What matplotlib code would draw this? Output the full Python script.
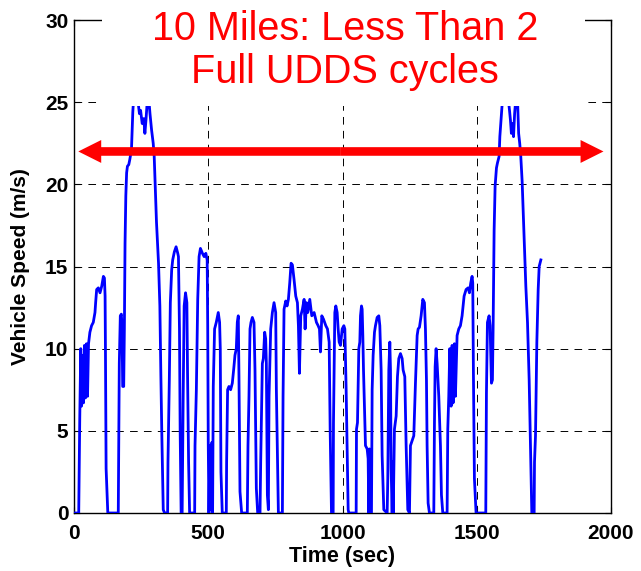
import matplotlib
matplotlib.use("Agg")
import matplotlib.pyplot as plt
from matplotlib.patches import FancyArrowPatch, Rectangle, ArrowStyle

plt.rcParams["font.family"] = ["Liberation Sans", "DejaVu Sans"]
plt.rcParams["lines.scale_dashes"] = False

# Drive-cycle speed trace: time (s) and vehicle speed (m/s)
time_s = [
    0, 17.6, 21.4, 25.2, 27.7, 31.5, 35.3, 39.0, 42.8, 46.6, 50.4, 54.1, 59.2, 65.5, 71.8,
    78.1, 80.6, 84.4, 90.6, 96.9, 103.2, 109.5, 113.3, 115.8, 117.1, 119.6, 125.9,
    164.9, 168.7, 172.5, 176.3, 178.8, 181.3, 185.1, 187.6, 190.1, 193.0, 196.0, 199.0,
    204.0, 207.7, 214.0, 216.5, 219.0, 222.0, 230.0, 238.0, 243.7, 248.0, 254.0, 260.0,
    264.0, 268.0, 273.0, 279.0, 283.0, 289.0, 295.0, 298.7, 302.2, 307.2, 314.8, 319.8,
    323.6, 327.4, 332.4, 337.4, 348.7, 350.0, 355.0, 358.8, 363.8, 367.6, 373.9, 380.2,
    386.5, 389.0, 392.8, 395.3, 399.0, 402.8, 406.6, 410.3, 415.4, 420.4, 422.9, 426.8,
    430.6, 449.4, 450.7, 455.7, 460.8, 465.8, 470.9, 478.4, 484.7, 491.0, 496.0, 498.0,
    500.0, 502.5, 506.2, 510.0, 513.7, 516.2, 518.7, 523.6, 529.9, 537.3, 542.3, 544.8,
    547.3, 552.2, 567.2, 568.4, 572.1, 577.1, 583.3, 589.6, 594.5, 599.5, 604.5, 608.2,
    611.9, 614.4, 618.2, 624.4, 645.5, 648.0, 651.7, 655.5, 659.2, 664.2, 670.4, 674.1,
    679.1, 684.1, 692.8, 695.3, 701.5, 705.2, 710.2, 713.9, 716.4, 720.2, 723.9, 726.4,
    732.6, 738.8, 745.0, 751.2, 753.7, 761.2, 776.1, 778.6, 782.3, 788.6, 793.5, 798.5,
    803.5, 808.5, 813.4, 819.6, 825.9, 832.1, 835.8, 839.6, 844.5, 850.7, 857.0, 860.7,
    865.7, 870.6, 878.1, 885.6, 894.3, 903.0, 909.2, 914.2, 917.9, 922.9, 929.1, 937.8,
    944.0, 950.3, 954.0, 959.0, 965.2, 966.4, 971.4, 975.1, 980.1, 983.8, 987.6, 992.6,
    998.8, 1005.0, 1008.7, 1013.6, 1021.1, 1023.6, 1050.9, 1052.1, 1055.8, 1060.8, 1064.5,
    1067.0, 1070.7, 1073.2, 1075.7, 1078.2, 1081.9, 1085.6, 1091.8, 1095.5, 1098.0, 1100.5,
    1103.0, 1107.9, 1110.4, 1114.1, 1119.1, 1122.8, 1129.0, 1135.2, 1139.0, 1143.9, 1147.6,
    1153.8, 1166.3, 1168.7, 1172.5, 1176.2, 1178.7, 1181.1, 1184.9, 1187.4, 1188.9, 1193.5,
    1199.8, 1204.7, 1209.7, 1215.9, 1222.1, 1225.8, 1232.0, 1237.0, 1243.2, 1249.4, 1253.1,
    1265.5, 1271.7, 1278.0, 1281.7, 1286.6, 1292.8, 1299.0, 1305.2, 1308.9, 1312.7, 1315.1,
    1318.9, 1323.8, 1340.0, 1342.5, 1345.0, 1348.6, 1352.4, 1358.6, 1364.8, 1368.5, 1373.5,
    1389.6, 1392.1, 1395.8, 1399.5, 1404.5, 1408.2, 1411.9, 1416.9, 1420.6, 1426.8, 1433.0,
    1439.2, 1445.4, 1447.9, 1452.9, 1460.3, 1467.8, 1472.7, 1477.7, 1482.6, 1485.1, 1487.6,
    1491.3, 1497.5, 1533.6, 1536.1, 1539.8, 1546.0, 1549.7, 1554.7, 1558.4, 1560.9, 1564.7,
    1568.4, 1573.4, 1577.1, 1583.3, 1586.0, 1592.7, 1596.0, 1607.0, 1618.0, 1622.0, 1625.5,
    1629.0, 1633.0, 1637.0, 1641.0, 1645.0, 1652.0, 1656.0, 1660.0, 1664.0, 1669.0, 1676.5,
    1682.8, 1689.0, 1695.2, 1701.4, 1705.1, 1713.8, 1715.1, 1718.8, 1723.8, 1728.8, 1732.5,
    1738.7,
]
speed_ms = [
    0, 0, 5.7, 10.0, 6.5, 9.6, 6.7, 10.2, 7.0, 10.3, 7.1, 10.3, 11.0, 11.4, 11.6,
    12.2, 12.8, 13.6, 13.7, 13.4, 13.8, 14.4, 14.3, 13.2, 10.0, 2.7, 0,
    0, 9.1, 12.0, 12.1, 11.4, 7.7, 7.7, 11.2, 16.4, 19.3, 20.7, 21.1,
    21.2, 21.5, 22.1, 23.3, 24.4, 25.2, 25.4, 25.1, 24.3, 24.5, 23.7, 24.0,
    23.1, 23.9, 25.1, 25.1, 24.3, 23.3, 22.5, 21.7, 20.1, 17.7, 15.2, 12.6,
    8.3, 4.5, 0.2, 0, 0, 3.1, 8.1, 12.8, 14.8, 15.4, 15.9, 16.2,
    15.8, 15.6, 11.2, 5.1, 0, 0, 7.1, 12.6, 13.4, 12.8, 8.5, 3.1,
    0, 0, 4.1, 7.5, 13.0, 15.6, 16.1, 15.8, 15.6, 15.8, 15.4, 11.4,
    4.3, 0, 4.1, 0.2, 4.3, 0, 7.7, 11.2, 11.6, 12.2, 11.6, 10.0,
    2.5, 0, 0, 3.1, 7.5, 7.7, 7.5, 7.9, 8.7, 9.6, 10.0, 11.6,
    12.0, 8.3, 1.3, 0, 0, 4.1, 7.1, 11.2, 11.6, 11.9, 11.6, 8.7,
    1.5, 0, 0, 3.1, 9.1, 9.4, 11.0, 10.6, 9.1, 1.1, 0.2, 7.1,
    11.2, 12.2, 12.8, 12.2, 7.5, 0, 0, 7.1, 12.4, 12.9, 12.6, 13.0,
    14.0, 15.2, 15.1, 14.2, 13.2, 12.8, 11.4, 8.5, 12.0, 12.4, 13.0, 11.2,
    12.8, 12.2, 13.0, 12.0, 12.2, 11.6, 11.4, 11.2, 9.8, 12.0, 11.8, 11.4,
    11.2, 10.4, 5.1, 0, 0, 5.5, 12.2, 12.6, 12.2, 11.2, 10.4, 10.2,
    11.2, 11.4, 11.2, 7.5, 0.2, 0, 0, 5.1, 5.5, 10.0, 10.4,
    12.0, 12.6, 12.4, 10.8, 8.7, 6.5, 4.1, 3.9, 3.3, 0, 3.9,
    0, 0, 7.5, 9.6, 11.0, 11.4, 11.9, 12.0, 11.4, 8.7, 3.5,
    0.2, 0, 2.1, 8.7, 10.4, 8.7, 2.7, 0, 3.1, 0, 5.1,
    5.9, 8.3, 9.4, 9.7, 9.4, 8.7, 8.3, 4.1, 0.2, 0, 4.1,
    4.7, 7.9, 10.8, 11.2, 11.3, 12.0, 13.0, 12.8, 11.2, 8.1, 4.1,
    0.6, 0, 0, 5.5, 8.9, 10.0, 9.1, 7.1, 4.1, 1.1, 0,
    0, 5.1, 7.1, 10.0, 6.5, 10.2, 6.7, 10.3, 7.1, 10.8, 11.2,
    11.4, 12.0, 12.4, 13.2, 13.6, 13.7, 13.4, 14.0, 14.4, 14.0, 8.5,
    2.1, 0, 0, 7.3, 11.6, 12.0, 11.4, 7.9, 8.1, 11.2, 17.2,
    19.9, 21.0, 21.3, 21.7, 22.9, 24.5, 25.2, 25.4, 25.1, 24.5, 23.9,
    23.1, 23.7, 22.9, 24.3, 25.1, 25.1, 23.1, 22.5, 21.7, 20.2, 16.8,
    13.8, 11.6, 8.1, 3.1, 0, 0, 3.1, 4.7, 10.4, 13.6, 15.0,
    15.4,
]

x_ticks = [0, 500, 1000, 1500, 2000]
y_ticks = [0, 5, 10, 15, 20, 25, 30]

callout_lines = ["10 Miles: Less Than 2", "Full UDDS cycles"]
arrow_y = 22
arrow_start, arrow_end = 16, 1972

W, H = 641, 571
fig = plt.figure(figsize=(W / 100, H / 100), dpi=100)
ax = fig.add_axes([74 / W, 1 - 513 / H, (611 - 74) / W, (513 - 20) / H])

ax.plot(time_s, speed_ms, color="#0000FF", lw=2.0, zorder=3)

ax.set_xlim(0, 2000)
ax.set_ylim(0, 30)
ax.set_xticks(x_ticks)
ax.set_yticks(y_ticks)
ax.tick_params(direction="in", length=4, width=0.8, top=True, right=True,
               labelsize=15)
ax.tick_params(axis="x", pad=8)
ax.tick_params(axis="y", pad=4)
for lab in ax.get_xticklabels() + ax.get_yticklabels():
    lab.set_fontweight("bold")
ax.grid(True, color="black", lw=0.7, linestyle=(0, (5.5, 4.5)))
ax.set_axisbelow(True)
for sp in ax.spines.values():
    sp.set_linewidth(1.0)
    sp.set_color("black")

ax.set_xlabel("Time (sec)", fontsize=15.5, fontweight="bold", va="top")
ax.xaxis.set_label_coords(0.5, (513 - 546) / 493)
ax.set_ylabel("Vehicle Speed (m/s)", fontsize=15, fontweight="bold", va="bottom")
ax.yaxis.set_label_coords((30 - 74) / 537, 0.5)

# double-headed red arrow spanning the cycle distance
mid = (arrow_start + arrow_end) / 2
style = ArrowStyle.Simple(head_length=16.5, head_width=16.5, tail_width=6.2)
for end in (arrow_start, arrow_end):
    ax.add_patch(FancyArrowPatch((mid, arrow_y), (end, arrow_y), arrowstyle=style,
                                 mutation_scale=1, lw=0, color="#FF0000",
                                 shrinkA=0, shrinkB=0, zorder=5))

# white text box behind the callout
fig.patches.append(Rectangle((102 / W, 1 - 106 / H), (585 - 102) / W, 106 / H,
                             transform=fig.transFigure, facecolor="white",
                             edgecolor="none", zorder=5))
fig.text(345 / W, 1 - 40 / H, callout_lines[0], color="#FF0000", fontsize=28.5,
         ha="center", va="baseline", zorder=6)
fig.text(345 / W, 1 - 83 / H, callout_lines[1], color="#FF0000", fontsize=28.5,
         ha="center", va="baseline", zorder=6)

fig.savefig("out.png", dpi=100)
